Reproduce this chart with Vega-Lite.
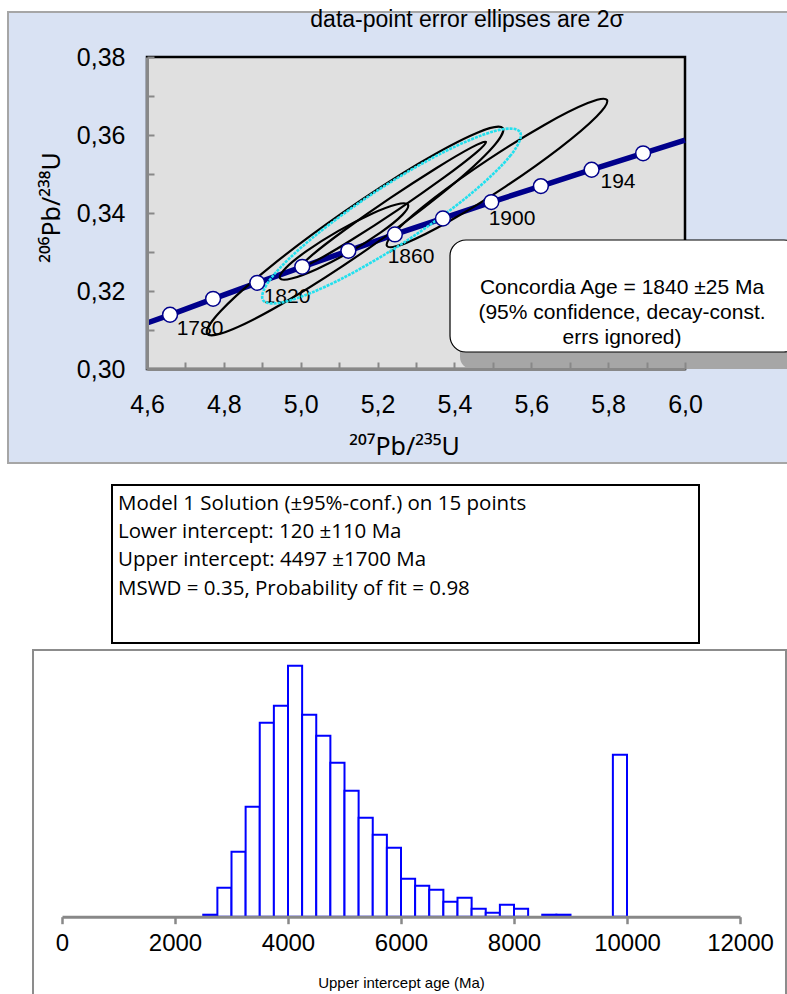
{
  "$schema": "https://vega.github.io/schema/vega-lite/v6.json",
  "width": 787,
  "height": 994,
  "autosize": {"type": "none"},
  "padding": 0,
  "background": "white",
  "config": {"view": {"stroke": null}, "font": "Liberation Sans", "axis": {"grid": false}},
  "datasets": {
    "curve": [
      {"x": 4.6, "y": 0.3118}, {"x": 4.66, "y": 0.3139}, {"x": 4.772, "y": 0.318}, {"x": 4.887, "y": 0.3221},
      {"x": 5.004, "y": 0.3262}, {"x": 5.124, "y": 0.3303}, {"x": 5.245, "y": 0.3345}, {"x": 5.37, "y": 0.3386},
      {"x": 5.496, "y": 0.3428}, {"x": 5.625, "y": 0.3469}, {"x": 5.757, "y": 0.3511}, {"x": 5.891, "y": 0.3553},
      {"x": 6.0, "y": 0.3587}
    ],
    "ticks": [
      {"age": 1760, "x": 4.66, "y": 0.3139}, {"age": 1780, "x": 4.772, "y": 0.318}, {"age": 1800, "x": 4.887, "y": 0.3221},
      {"age": 1820, "x": 5.004, "y": 0.3262}, {"age": 1840, "x": 5.124, "y": 0.3303}, {"age": 1860, "x": 5.245, "y": 0.3345},
      {"age": 1880, "x": 5.37, "y": 0.3386}, {"age": 1900, "x": 5.496, "y": 0.3428}, {"age": 1920, "x": 5.625, "y": 0.3469},
      {"age": 1940, "x": 5.757, "y": 0.3511}, {"age": 1960, "x": 5.891, "y": 0.3553}
    ],
    "labels": [
      {"label": "1780", "x": 4.7379, "y": 0.310256},
      {"label": "1820", "x": 4.9643, "y": 0.318462},
      {"label": "1860", "x": 5.287, "y": 0.328718},
      {"label": "1900", "x": 5.5498, "y": 0.338462},
      {"label": "194", "x": 5.8256, "y": 0.347949}
    ],
    "ellipses": [
      {"ell": "A", "k": 0, "x": 5.5259, "y": 0.36174}, {"ell": "A", "k": 1, "x": 5.4907, "y": 0.35589},
      {"ell": "A", "k": 2, "x": 5.3619, "y": 0.34455}, {"ell": "A", "k": 3, "x": 5.174, "y": 0.33075},
      {"ell": "A", "k": 4, "x": 4.9773, "y": 0.31819}, {"ell": "A", "k": 5, "x": 4.8245, "y": 0.31023},
      {"ell": "A", "k": 6, "x": 4.7567, "y": 0.30902}, {"ell": "A", "k": 7, "x": 4.7919, "y": 0.31487},
      {"ell": "A", "k": 8, "x": 4.9207, "y": 0.32621}, {"ell": "A", "k": 9, "x": 5.1086, "y": 0.34001},
      {"ell": "A", "k": 10, "x": 5.3053, "y": 0.35257}, {"ell": "A", "k": 11, "x": 5.4581, "y": 0.36053},
      {"ell": "B", "k": 0, "x": 5.7968, "y": 0.36898}, {"ell": "B", "k": 1, "x": 5.77, "y": 0.36476},
      {"ell": "B", "k": 2, "x": 5.6737, "y": 0.35666}, {"ell": "B", "k": 3, "x": 5.5337, "y": 0.34684},
      {"ell": "B", "k": 4, "x": 5.3875, "y": 0.33794}, {"ell": "B", "k": 5, "x": 5.2744, "y": 0.33234},
      {"ell": "B", "k": 6, "x": 5.2246, "y": 0.33154}, {"ell": "B", "k": 7, "x": 5.2514, "y": 0.33576},
      {"ell": "B", "k": 8, "x": 5.3477, "y": 0.34386}, {"ell": "B", "k": 9, "x": 5.4877, "y": 0.35368},
      {"ell": "B", "k": 10, "x": 5.6339, "y": 0.36258}, {"ell": "B", "k": 11, "x": 5.747, "y": 0.36818},
      {"ell": "C", "k": 0, "x": 5.2791, "y": 0.34211}, {"ell": "C", "k": 1, "x": 5.2646, "y": 0.33952},
      {"ell": "C", "k": 2, "x": 5.2093, "y": 0.33509}, {"ell": "C", "k": 3, "x": 5.1282, "y": 0.33002},
      {"ell": "C", "k": 4, "x": 5.0428, "y": 0.32567}, {"ell": "C", "k": 5, "x": 4.9762, "y": 0.3232},
      {"ell": "C", "k": 6, "x": 4.9461, "y": 0.32327}, {"ell": "C", "k": 7, "x": 4.9606, "y": 0.32586},
      {"ell": "C", "k": 8, "x": 5.0159, "y": 0.33029}, {"ell": "C", "k": 9, "x": 5.0971, "y": 0.33536},
      {"ell": "C", "k": 10, "x": 5.1824, "y": 0.33971}, {"ell": "C", "k": 11, "x": 5.249, "y": 0.34218},
      {"ell": "D", "k": 0, "x": 5.4821, "y": 0.35822}, {"ell": "D", "k": 1, "x": 5.4551, "y": 0.35535},
      {"ell": "D", "k": 2, "x": 5.3712, "y": 0.34898}, {"ell": "D", "k": 3, "x": 5.2529, "y": 0.34082},
      {"ell": "D", "k": 4, "x": 5.1318, "y": 0.33307}, {"ell": "D", "k": 5, "x": 5.0405, "y": 0.32779},
      {"ell": "D", "k": 6, "x": 5.0033, "y": 0.3264}, {"ell": "D", "k": 7, "x": 5.0303, "y": 0.32927},
      {"ell": "D", "k": 8, "x": 5.1142, "y": 0.33564}, {"ell": "D", "k": 9, "x": 5.2325, "y": 0.3438},
      {"ell": "D", "k": 10, "x": 5.3536, "y": 0.35155}, {"ell": "D", "k": 11, "x": 5.4449, "y": 0.35683},
      {"ell": "E", "k": 0, "x": 5.5705, "y": 0.3608}, {"ell": "E", "k": 1, "x": 5.5464, "y": 0.3548},
      {"ell": "E", "k": 2, "x": 5.4392, "y": 0.34463}, {"ell": "E", "k": 3, "x": 5.2776, "y": 0.33301},
      {"ell": "E", "k": 4, "x": 5.1048, "y": 0.32306}, {"ell": "E", "k": 5, "x": 4.9674, "y": 0.31744},
      {"ell": "E", "k": 6, "x": 4.9019, "y": 0.31766}, {"ell": "E", "k": 7, "x": 4.926, "y": 0.32366},
      {"ell": "E", "k": 8, "x": 5.0332, "y": 0.33384}, {"ell": "E", "k": 9, "x": 5.1949, "y": 0.34545},
      {"ell": "E", "k": 10, "x": 5.3676, "y": 0.3554}, {"ell": "E", "k": 11, "x": 5.505, "y": 0.36102}
    ],
    "model": [
      {"line": 1, "text": "Model 1 Solution (±95%-conf.) on 15 points"},
      {"line": 2, "text": "Lower intercept: 120 ±110 Ma"},
      {"line": 3, "text": "Upper intercept: 4497 ±1700 Ma"},
      {"line": 4, "text": "MSWD = 0.35, Probability of fit = 0.98"}
    ],
    "hist": [
      {"b0": 2500, "b1": 2750, "n": 2}, {"b0": 2750, "b1": 3000, "n": 29}, {"b0": 3000, "b1": 3250, "n": 65},
      {"b0": 3250, "b1": 3500, "n": 110}, {"b0": 3500, "b1": 3750, "n": 194}, {"b0": 3750, "b1": 4000, "n": 211},
      {"b0": 4000, "b1": 4250, "n": 251}, {"b0": 4250, "b1": 4500, "n": 202}, {"b0": 4500, "b1": 4750, "n": 181},
      {"b0": 4750, "b1": 5000, "n": 154}, {"b0": 5000, "b1": 5250, "n": 126}, {"b0": 5250, "b1": 5500, "n": 99},
      {"b0": 5500, "b1": 5750, "n": 82}, {"b0": 5750, "b1": 6000, "n": 69}, {"b0": 6000, "b1": 6250, "n": 38},
      {"b0": 6250, "b1": 6500, "n": 31}, {"b0": 6500, "b1": 6750, "n": 27}, {"b0": 6750, "b1": 7000, "n": 15},
      {"b0": 7000, "b1": 7250, "n": 19}, {"b0": 7250, "b1": 7500, "n": 8}, {"b0": 7500, "b1": 7750, "n": 4},
      {"b0": 7750, "b1": 8000, "n": 12}, {"b0": 8000, "b1": 8250, "n": 8}, {"b0": 8500, "b1": 8750, "n": 2},
      {"b0": 8750, "b1": 9000, "n": 2}, {"b0": 9750, "b1": 10000, "n": 162}
    ]
  },
  "layer": [
    {
      "layer": [
        {
          "data": {"values": [{}]},
          "mark": {"type": "rect", "fill": "#d9e2f3", "stroke": "#a6a6a6", "strokeWidth": 2},
          "encoding": {
            "x": {
              "datum": 4.2383, "type": "quantitative",
              "scale": {"domain": [4.6, 6.0], "range": [147, 685], "nice": false, "zero": false},
              "axis": {
                "orient": "bottom", "offset": -625,
                "values": [4.6, 4.7, 4.8, 4.9, 5.0, 5.1, 5.2, 5.3, 5.4, 5.5, 5.6, 5.7, 5.8, 5.9, 6.0],
                "labelExpr": "round(datum.value*10)%2==0 ? replace(format(datum.value,'.1f'),'.',',') : ''",
                "labelFont": "Liberation Sans", "labelFontSize": 25, "labelColor": "#000", "labelPadding": 30,
                "labelFlush": false, "labelOverlap": false,
                "tickSize": -7, "tickColor": "#888", "tickWidth": 2, "domainColor": "#888", "domainWidth": 3,
                "title": "²⁰⁷Pb/²³⁵U", "titleFont": "Noto Sans", "titleFontSize": 25, "titleFontWeight": 400,
                "titleColor": "#000", "titlePadding": 17, "titleX": 404, "zindex": 1
              }
            },
            "x2": {"datum": 6.2992},
            "y": {
              "datum": 0.391538, "type": "quantitative",
              "scale": {"domain": [0.30, 0.38], "range": [369, 57], "nice": false, "zero": false},
              "axis": {
                "orient": "left", "offset": -147,
                "values": [0.30, 0.31, 0.32, 0.33, 0.34, 0.35, 0.36, 0.37, 0.38],
                "labelExpr": "round(datum.value*100)%2==0 ? replace(format(datum.value,'.2f'),'.',',') : ''",
                "labelFont": "Liberation Sans", "labelFontSize": 25, "labelColor": "#000", "labelPadding": 29,
                "labelFlush": false, "labelOverlap": false,
                "tickSize": -7, "tickColor": "#888", "tickWidth": 2, "domainColor": "#888", "domainWidth": 3,
                "title": "²⁰⁶Pb/²³⁸U", "titleFont": "Noto Sans", "titleFontSize": 25, "titleFontWeight": 400,
                "titleColor": "#000", "titlePadding": 12, "titleY": 207, "zindex": 1
              }
            },
            "y2": {"datum": 0.275897}
          }
        },
        {
          "data": {"values": [{}]},
          "mark": {"type": "rect", "fill": "#e0e0e0", "stroke": "#000", "strokeWidth": 2.5},
          "encoding": {
            "x": {"datum": 4.6, "type": "quantitative"}, "x2": {"datum": 6.0},
            "y": {"datum": 0.30, "type": "quantitative"}, "y2": {"datum": 0.38}
          }
        },
        {
          "data": {"name": "curve"},
          "mark": {"type": "line", "color": "#00008b", "strokeWidth": 5.5},
          "encoding": {"x": {"field": "x", "type": "quantitative"}, "y": {"field": "y", "type": "quantitative"}}
        },
        {
          "data": {"name": "labels"},
          "mark": {"type": "text", "font": "Liberation Sans", "fontSize": 21, "color": "#000", "align": "center", "baseline": "middle"},
          "encoding": {
            "x": {"field": "x", "type": "quantitative"}, "y": {"field": "y", "type": "quantitative"},
            "text": {"field": "label"}
          }
        },
        {
          "data": {"name": "ellipses"},
          "transform": [{"filter": "datum.ell != 'E'"}],
          "mark": {"type": "line", "color": "#000", "strokeWidth": 2.2, "interpolate": "cardinal-closed"},
          "encoding": {
            "x": {"field": "x", "type": "quantitative"}, "y": {"field": "y", "type": "quantitative"},
            "detail": {"field": "ell"}, "order": {"field": "k", "type": "quantitative"}
          }
        },
        {
          "data": {"name": "ellipses"},
          "transform": [{"filter": "datum.ell == 'E'"}],
          "mark": {"type": "line", "color": "#22e0ee", "strokeWidth": 2.6, "strokeDash": [3, 1], "interpolate": "cardinal-closed"},
          "encoding": {
            "x": {"field": "x", "type": "quantitative"}, "y": {"field": "y", "type": "quantitative"},
            "detail": {"field": "ell"}, "order": {"field": "k", "type": "quantitative"}
          }
        },
        {
          "data": {"name": "ticks"},
          "mark": {"type": "circle", "size": 220, "fill": "#ffffff", "stroke": "#00008b", "strokeWidth": 1.5, "opacity": 1},
          "encoding": {"x": {"field": "x", "type": "quantitative"}, "y": {"field": "y", "type": "quantitative"}}
        },
        {
          "data": {"values": [{}]},
          "mark": {"type": "rect", "fill": "#a6a6a6", "cornerRadiusBottomLeft": 12},
          "encoding": {
            "x": {"datum": 5.4145, "type": "quantitative"}, "x2": {"datum": 6.2992},
            "y": {"datum": 0.33051, "type": "quantitative"}, "y2": {"datum": 0.30}
          }
        },
        {
          "data": {"values": [{}]},
          "mark": {"type": "rect", "fill": "#ffffff", "stroke": "#000", "strokeWidth": 1.2, "cornerRadius": 16},
          "encoding": {
            "x": {"datum": 5.3885, "type": "quantitative"}, "x2": {"datum": 6.2992},
            "y": {"datum": 0.33308, "type": "quantitative"}, "y2": {"datum": 0.30436}
          }
        },
        {
          "data": {"values": [{}]},
          "mark": {"type": "text", "font": "Liberation Sans", "fontSize": 21, "color": "#000", "align": "center", "baseline": "middle", "lineHeight": 25},
          "encoding": {
            "x": {"datum": 5.8361, "type": "quantitative"},
            "y": {"datum": 0.320769, "type": "quantitative"},
            "text": {"datum": ["Concordia Age = 1840 ±25 Ma", "(95% confidence, decay-const.", "errs ignored)"]}
          }
        },
        {
          "data": {"values": [{}]},
          "mark": {"type": "text", "font": "Liberation Sans", "fontSize": 23, "color": "#000", "align": "center", "baseline": "alphabetic"},
          "encoding": {
            "x": {"datum": 5.4327, "type": "quantitative"},
            "y": {"datum": 0.387692, "type": "quantitative"},
            "text": {"datum": "data-point error ellipses are 2σ"}
          }
        }
      ]
    },
    {
      "layer": [
        {
          "data": {"values": [{}]},
          "mark": {"type": "rect", "fill": "#ffffff", "stroke": "#000", "strokeWidth": 2},
          "encoding": {
            "x": {"datum": 0, "type": "quantitative", "scale": {"domain": [0, 1], "range": [112, 699], "nice": false, "zero": false}, "axis": null},
            "x2": {"datum": 1},
            "y": {"datum": 0.35, "type": "quantitative", "scale": {"domain": [0.35, 5.9], "range": [485, 643], "nice": false, "zero": false}, "axis": null},
            "y2": {"datum": 5.9}
          }
        },
        {
          "data": {"name": "model"},
          "mark": {"type": "text", "font": "Open Sans", "fontSize": 20.5, "color": "#000", "align": "left", "baseline": "middle"},
          "encoding": {
            "x": {"datum": 0.0102, "type": "quantitative"},
            "y": {"field": "line", "type": "quantitative"},
            "text": {"field": "text"}
          }
        }
      ]
    },
    {
      "layer": [
        {
          "data": {"values": [{}]},
          "mark": {"type": "rect", "fill": null, "stroke": "#8c8c8c", "strokeWidth": 2},
          "encoding": {
            "x": {
              "datum": -513, "type": "quantitative",
              "scale": {"domain": [0, 12000], "range": [62, 740], "nice": false, "zero": false},
              "axis": {
                "orient": "bottom", "offset": -77.3,
                "values": [0, 2000, 4000, 6000, 8000, 10000, 12000], "format": "d",
                "labelFont": "Liberation Sans", "labelFontSize": 24, "labelColor": "#000", "labelPadding": 8,
                "labelFlush": false, "labelOverlap": false,
                "tickSize": 7, "tickColor": "#888", "tickWidth": 2.5, "domainColor": "#888", "domainWidth": 3,
                "title": "Upper intercept age (Ma)", "titleFont": "Liberation Sans", "titleFontSize": 15,
                "titleFontWeight": "normal", "titleColor": "#000", "titlePadding": 20, "zindex": 1
              }
            },
            "x2": {"datum": 12814},
            "y": {"datum": 266.7, "type": "quantitative", "scale": {"domain": [0, 251], "range": [916.7, 665.7], "nice": false, "zero": false}, "axis": null},
            "y2": {"datum": -90}
          }
        },
        {
          "data": {"name": "hist"},
          "mark": {"type": "rect", "fill": "#ffffff", "stroke": "#0000ff", "strokeWidth": 2},
          "encoding": {
            "x": {"field": "b0", "type": "quantitative"},
            "x2": {"field": "b1"},
            "y": {"field": "n", "type": "quantitative"},
            "y2": {"datum": 0}
          }
        }
      ]
    }
  ],
  "resolve": {"scale": {"x": "independent", "y": "independent"}}
}
